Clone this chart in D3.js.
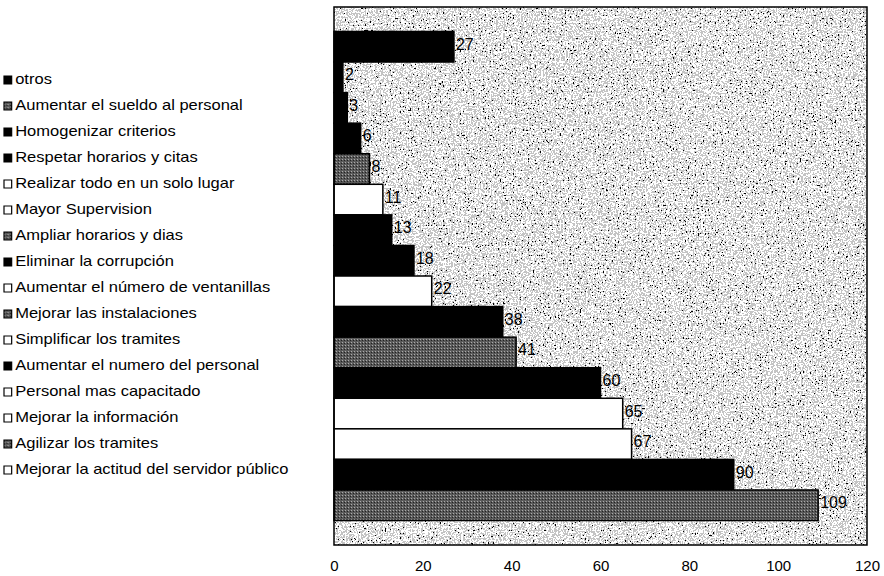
<!DOCTYPE html>
<html>
<head>
<meta charset="utf-8">
<script src="https://cdn.jsdelivr.net/npm/d3@7"></script>
<style>
  body { margin: 0; background: #fff; }
  text { font-family: Arial, "Liberation Sans", sans-serif; fill: #000; }
</style>
</head>
<body>
<div id="chart"></div>
<script>
// categories, top to bottom as in the legend
const categories = [
    "otros",
    "Aumentar el sueldo al personal",
    "Homogenizar criterios",
    "Respetar horarios y citas",
    "Realizar todo en un solo lugar",
    "Mayor Supervision",
    "Ampliar horarios y dias",
    "Eliminar la corrupción",
    "Aumentar el número de ventanillas",
    "Mejorar las instalaciones",
    "Simplificar los tramites",
    "Aumentar el numero del personal",
    "Personal mas capacitado",
    "Mejorar la información",
    "Agilizar los tramites",
    "Mejorar la actitud del servidor público"
];
const values = [27, 2, 3, 6, 8, 11, 13, 18, 22, 38, 41, 60, 65, 67, 90, 109];
const xTicks = [0, 20, 40, 60, 80, 100, 120];

// fill styles as they appear in the scan
const barFill    = ["k", "k", "k", "k", "g", "w", "k", "k", "w", "k", "g", "k", "w", "w", "k", "g"];
const legendFill = ["k", "g", "k", "k", "w", "w", "g", "k", "w", "g", "w", "k", "w", "w", "g", "w"];
const fillOf = { k: "#000", g: "url(#dots)", w: "#fff" };

const width = 884, height = 576;
const plot = { left: 334, right: 867, top: 7, bottom: 545 };

const svg = d3.select("#chart").append("svg")
    .attr("width", width)
    .attr("height", height);

const defs = svg.append("defs");

// speckled background like the photocopy
const grain = defs.append("filter")
    .attr("id", "grain")
    .attr("x", 0).attr("y", 0).attr("width", 1).attr("height", 1);
grain.append("feTurbulence")
    .attr("type", "fractalNoise")
    .attr("baseFrequency", 0.6)
    .attr("numOctaves", 3)
    .attr("seed", 7);
grain.append("feColorMatrix")
    .attr("type", "saturate")
    .attr("values", 0);
const ct = grain.append("feComponentTransfer");
["R", "G", "B"].forEach(c => ct.append("feFunc" + c)
    .attr("type", "discrete")
    .attr("tableValues", "0 0 0.55 1 1 1"));
ct.append("feFuncA").attr("type", "linear").attr("slope", 0).attr("intercept", 1);

// dark grey dotted fill
const dots = defs.append("pattern")
    .attr("id", "dots")
    .attr("width", 3).attr("height", 3)
    .attr("patternUnits", "userSpaceOnUse");
dots.append("rect").attr("width", 3).attr("height", 3).attr("fill", "#5a5a5a");
dots.append("rect").attr("x", 0).attr("y", 0).attr("width", 1).attr("height", 1).attr("fill", "#aaa");
dots.append("rect").attr("x", 2).attr("y", 1).attr("width", 1).attr("height", 1).attr("fill", "#222");

const x = d3.scaleLinear()
    .domain([0, 120])
    .range([plot.left, plot.right]);

const y = d3.scaleBand()
    .domain(categories)
    .range([plot.top, plot.bottom])
    .paddingInner(0)
    .paddingOuter(0.8);

// plot background
svg.append("rect")
    .attr("x", plot.left).attr("y", plot.top)
    .attr("width", plot.right - plot.left)
    .attr("height", plot.bottom - plot.top)
    .attr("fill", "#bdbdbd")
    .attr("filter", "url(#grain)");

const bars = categories.map((c, i) => ({ cat: c, val: values[i], fill: barFill[i] }));

svg.selectAll("rect.bar")
    .data(bars)
  .enter().append("rect")
    .attr("class", "bar")
    .attr("x", x(0))
    .attr("y", d => y(d.cat))
    .attr("width", d => x(d.val) - x(0))
    .attr("height", y.bandwidth())
    .attr("fill", d => fillOf[d.fill])
    .attr("stroke", "#000")
    .attr("stroke-width", 1.5);

svg.selectAll("text.val")
    .data(bars)
  .enter().append("text")
    .attr("class", "val")
    .attr("x", d => x(d.val) + 2)
    .attr("y", d => y(d.cat) + y.bandwidth() / 2 + 3)
    .attr("font-size", 16)
    .text(d => d.val);

// plot border
svg.append("rect")
    .attr("x", plot.left).attr("y", plot.top)
    .attr("width", plot.right - plot.left)
    .attr("height", plot.bottom - plot.top)
    .attr("fill", "none")
    .attr("stroke", "#000")
    .attr("stroke-width", 1.5);

// x axis: labels only
const xAxis = svg.append("g")
    .attr("transform", "translate(0," + plot.bottom + ")")
    .call(d3.axisBottom(x).tickValues(xTicks).tickSize(0).tickPadding(15));
xAxis.select(".domain").remove();
xAxis.selectAll("text")
    .attr("font-size", 15)
    .attr("font-family", "Arial, 'Liberation Sans', sans-serif")
    .attr("fill", "#000");

// legend
const legend = svg.append("g")
    .attr("transform", "translate(4,84) scale(1.18,1)");

const item = legend.selectAll("g")
    .data(categories)
  .enter().append("g")
    .attr("transform", (d, i) => "translate(0," + i * 26 + ")");

item.append("rect")
    .attr("x", 0).attr("y", -8)
    .attr("width", 6.5).attr("height", 8)
    .attr("fill", (d, i) => fillOf[legendFill[i]])
    .attr("stroke", "#000")
    .attr("stroke-width", 1);

item.append("text")
    .attr("x", 9.5)
    .attr("font-size", 14)
    .text(d => d);
</script>
</body>
</html>
